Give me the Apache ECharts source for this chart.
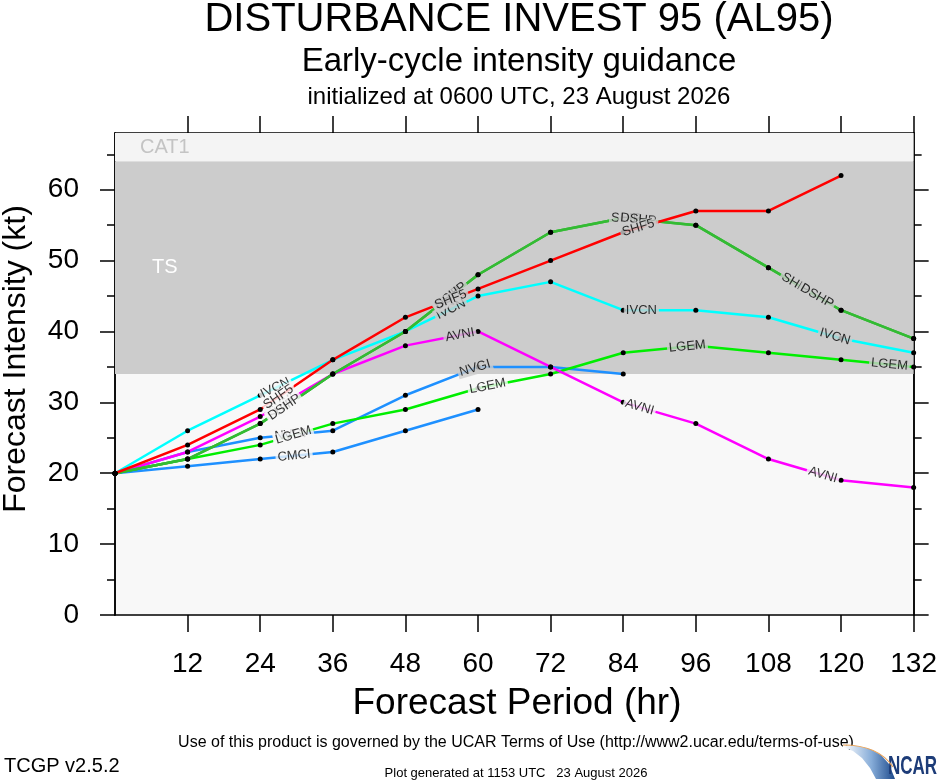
<!DOCTYPE html>
<html>
<head>
<meta charset="utf-8">
<title>AL95 early-cycle intensity guidance</title>
<script src="https://cdn.jsdelivr.net/npm/echarts@6/dist/echarts.min.js"></script>
<style>
  html, body { margin: 0; padding: 0; background: #fff; }
  #chart { width: 940px; height: 780px; }
</style>
</head>
<body>
<div id="chart"></div>
<script>
var hours = [0, 12, 24, 36, 48, 60, 72, 84, 96, 108, 120, 132]
var shf5 = [20, 24, 29, 36, 42, 46, 50, 54, 57, 57, 62]
var dshp = [20, 22, 27, 34, 40, 48, 54, 56, 55, 49, 43, 39]
var ship = [20, 22, 27, 34, 40, 48, 54, 56, 55, 49, 43, 39]
var ivcn = [20, 26, 31, 36, 40, 45, 47, 43, 43, 42, 39, 37]
var avni = [20, 23, 28, 34, 38, 40, 35, 30, 27, 22, 19, 18]
var nvgi = [20, 23, 25, 26, 31, 35, 35, 34]
var lgem = [20, 22, 24, 27, 29, 32, 34, 37, 38, 37, 36, 35]
var cmci = [20, 21, 22, 23, 26, 29]

var xTicks = [12, 24, 36, 48, 60, 72, 84, 96, 108, 120, 132]
var yTicks = [0, 10, 20, 30, 40, 50, 60]
var yMinorTicks = [5, 15, 25, 35, 45, 55, 65]
var tsBand = [34, 64]
var cat1Band = [64, 68]

// drawing order, bottom to top
var models = [
  {name: 'CMCI', values: cmci, color: '#1e90ff', labelAt: [29.6]},
  {name: 'NVGI', values: nvgi, color: '#1e90ff', labelAt: [29, 59.5]},
  {name: 'LGEM', values: lgem, color: '#00ee00', labelAt: [29.5, 61.6, 94.6, 128]},
  {name: 'AVNI', values: avni, color: '#ff00ff', labelAt: [27.5, 57, 86.7, 117]},
  {name: 'IVCN', values: ivcn, color: '#00ffff', labelAt: [26.5, 55.5, 87, 119]},
  {name: 'SHIP', values: ship, color: '#33bb33', labelAt: [27.5, 55, 84.5, 112.5]},
  {name: 'DSHP', values: dshp, color: '#33bb33', labelAt: [28, 55.5, 86.5, 116]},
  {name: 'SHF5', values: shf5, color: '#ff0000', labelAt: [27, 55.5, 86.5]}
]

var font = 'Liberation Sans'
var chart = echarts.init(document.getElementById('chart'))

function pairs (vals) {
  var out = []
  for (var i = 0; i < vals.length; i++) out.push([hours[i], vals[i]])
  return out
}

// value of a model line at hour h (only for placing its text label)
function valueAt (vals, h) {
  var i = Math.min(Math.floor(h / 12), vals.length - 2)
  var t = (h - hours[i]) / (hours[i + 1] - hours[i])
  return vals[i] + (vals[i + 1] - vals[i]) * t
}

function tickAxis (pos, values, len, labels) {
  return {
    type: 'value', position: pos, min: 0, max: pos === 'left' || pos === 'right' ? cat1Band[1] : 132,
    axisLine: {show: true, onZero: false, lineStyle: {color: '#000', width: 1.5}},
    axisTick: {show: true, inside: false, length: len, customValues: values, lineStyle: {color: '#000', width: 1.5}},
    axisLabel: labels ? {show: true, customValues: values, fontSize: 28, color: '#000', fontFamily: font,
      margin: (pos === 'left' ? 36 : 35)} : {show: false},
    splitLine: {show: false}
  }
}

var series = [{
  type: 'line', data: [], z: 1, silent: true,
  markArea: {
    silent: true,
    data: [
      [{name: 'TS', yAxis: tsBand[0], itemStyle: {color: '#cccccc'},
        label: {show: true, position: 'insideLeft', distance: 37, color: '#fff', fontSize: 20, fontFamily: font}},
       {yAxis: tsBand[1]}],
      [{name: 'CAT1', yAxis: cat1Band[0], itemStyle: {color: '#f4f4f4'},
        label: {show: true, position: 'insideLeft', distance: 25, color: '#c4c4c4', fontSize: 20, fontFamily: font}},
       {yAxis: cat1Band[1]}]
    ]
  }
}]

models.forEach(function (m) {
  series.push({
    name: m.name, type: 'line', data: pairs(m.values), z: 3,
    symbol: 'circle', symbolSize: 5, showSymbol: true,
    itemStyle: {color: '#000'},
    lineStyle: {color: m.color, width: 2.5},
    emphasis: {disabled: true}, silent: true
  })
})

function text (x, y, str, size, align) {
  return {type: 'text', z: 10, x: x, y: y, style: {x: 0, y: 0, text: str, font: size + 'px "' + font + '"',
    textAlign: align || 'center', textVerticalAlign: 'middle', fill: '#000'}}
}

var yTitle = text(16, 359, 'Forecast Intensity (kt)', 32)
yTitle.rotation = Math.PI / 2
var ncar = text(937, 767, 'NCAR', 25, 'right')
ncar.style.font = 'bold 25px "' + font + '"'
ncar.style.fill = '#1d3c78'
ncar.scaleX = 0.68

var option = {
  animation: false,
  backgroundColor: '#fff',
  textStyle: {fontFamily: font},
  grid: {left: 115, right: 23, top: 133, bottom: 165, show: true, backgroundColor: '#f8f8f8', borderWidth: 0},
  xAxis: [tickAxis('bottom', xTicks, 17, true), tickAxis('top', xTicks, 17, false)],
  yAxis: [tickAxis('left', yTicks, 15, true), tickAxis('left', yMinorTicks, 8, false),
          tickAxis('right', yTicks, 15, false), tickAxis('right', yMinorTicks, 8, false)],
  series: series,
  graphic: [
    text(519, 20, 'DISTURBANCE INVEST 95 (AL95)', 40),
    text(519, 62, 'Early-cycle intensity guidance', 33),
    text(519, 97, 'initialized at 0600 UTC, 23 August 2026', 24),
    text(517, 704, 'Forecast Period (hr)', 37),
    yTitle,
    text(516, 743, 'Use of this product is governed by the UCAR Terms of Use (http://www2.ucar.edu/terms-of-use)', 16),
    text(4, 766, 'TCGP v2.5.2', 20, 'left'),
    text(516, 773, 'Plot generated at 1153 UTC   23 August 2026', 13),
    // NCAR swoosh
    {type: 'polygon', z: 10, shape: {points: [[843, 745], [857, 746], [870, 749], [881, 755], [889, 764], [895, 779],
      [876, 779], [870, 768], [862, 758], [853, 751], [843, 747]]},
      style: {fill: new echarts.graphic.LinearGradient(0, 0, 1, 0, [{offset: 0, color: '#ffffff'}, {offset: 0.55, color: '#86acd8'}, {offset: 1, color: '#1d4a8c'}])}},
    {type: 'bezierCurve', z: 11, shape: {x1: 843, y1: 745, cpx1: 866, cpy1: 745, cpx2: 883, cpy2: 752, x2: 893, y2: 767},
      style: {stroke: '#e9a155', lineWidth: 1.2, fill: null}},
    ncar
  ]
}
chart.setOption(option)

// rotated model labels, placed along each line
var labelData = []
models.forEach(function (m, idx) {
  m.labelAt.forEach(function (h) {
    var v = valueAt(m.values, h)
    var a = chart.convertToPixel({seriesIndex: idx + 1}, [h - 1, valueAt(m.values, h - 1)])
    var b = chart.convertToPixel({seriesIndex: idx + 1}, [h + 1, valueAt(m.values, h + 1)])
    var ang = Math.atan2(a[1] - b[1], b[0] - a[0]) * 180 / Math.PI
    var bg = (v >= tsBand[0] && v <= tsBand[1]) ? '#cccccc' : '#f8f8f8'
    labelData.push({value: [h, v], label: {formatter: m.name, rotate: ang, backgroundColor: bg}})
  })
})

series.push({
  type: 'scatter', data: labelData, z: 5, silent: true,
  symbol: 'circle', symbolSize: 0, itemStyle: {color: 'rgba(0,0,0,0)'},
  label: {show: true, position: 'inside', color: '#000', fontSize: 13, fontFamily: font, padding: [0, 2]}
})
chart.setOption({series: series})
</script>
</body>
</html>
